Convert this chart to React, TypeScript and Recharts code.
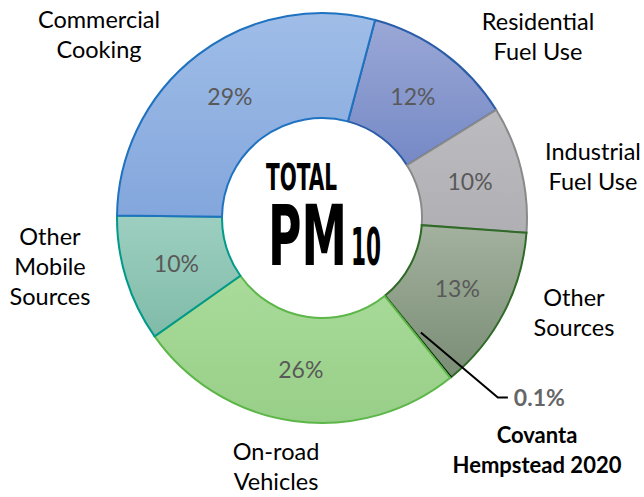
import React from "react";
import { PieChart, Pie, Cell } from "recharts";

const categories = [
  "Residential Fuel Use",
  "Industrial Fuel Use",
  "Other Sources",
  "Covanta Hempstead 2020",
  "On-road Vehicles",
  "Other Mobile Sources",
  "Commercial Cooking",
];
const values = [12, 10, 13, 0.1, 26, 10, 29];
const valueLabels = ["12%", "10%", "13%", "0.1%", "26%", "10%", "29%"];
const labelLines = [
  ["Residential", "Fuel Use"],
  ["Industrial", "Fuel Use"],
  ["Other", "Sources"],
  ["Covanta", "Hempstead 2020"],
  ["On-road", "Vehicles"],
  ["Other", "Mobile", "Sources"],
  ["Commercial", "Cooking"],
];

const fills = ["url(#gRes)", "url(#gInd)", "url(#gOth)", "#000", "url(#gOnr)", "url(#gMob)", "url(#gCom)"];
const strokes = ["#2a5ca8", "#8a8a8a", "#2f6a27", "#000", "#5cb648", "#00998a", "#1f72c0"];

// outside-label anchor (center x, first baseline y) relative to pie centre
const outsideOffsets = [
  [216, -188],
  [271, -58],
  [252, 88],
  [215, 225],
  [-46, 242],
  [-272, 27],
  [-223, -190],
];

const data = categories.map((name, i) => ({ name, value: values[i] }));

const CX = 322;
const CY = 218;
const RAD = Math.PI / 180;
const FONT = "Lato, 'Open Sans', sans-serif";
const NARROW = "'Liberation Sans Narrow', 'DejaVu Sans Condensed', sans-serif";

const renderLabel = (props: any) => {
  const { cx, cy, midAngle, innerRadius, outerRadius, index } = props;
  const r = (innerRadius + outerRadius) / 2;
  const mx = cx + r * Math.cos(-midAngle * RAD);
  const my = cy + r * Math.sin(-midAngle * RAD);
  const [ox, oy] = outsideOffsets[index];
  const lines = labelLines[index];
  const isCov = index === 3;
  return (
    <g key={`lbl-${index}`}>
      {!isCov && (
        <text x={mx} y={my} textAnchor="middle" dominantBaseline="central" fill="#595959" fontSize={23} fontFamily={FONT}>
          {valueLabels[index]}
        </text>
      )}
      {isCov && (
        <g>
          <polyline
            points={`${mx + 3},${my - 4} ${mx + 80},${my + 61} ${mx + 90},${my + 61}`}
            fill="none"
            stroke="#000"
            strokeWidth={2}
          />
          <text x={mx + 96} y={my + 69} textAnchor="start" fill="#666" fontSize={23} fontWeight={700} fontFamily={FONT}>
            {valueLabels[index]}
          </text>
        </g>
      )}
      {lines.map((t, j) => (
        <text
          key={j}
          x={cx + ox}
          y={cy + oy + j * 30}
          textAnchor="middle"
          fill="#000"
          fontSize={isCov ? 22 : 23.5}
          fontWeight={isCov ? 700 : 400}
          fontFamily={FONT}
        >
          {t}
        </text>
      ))}
    </g>
  );
};

export default function App() {
  return (
    <div style={{ position: "absolute", left: 0, top: 0, width: 644, height: 497, background: "#fff" }}>
      <PieChart width={644} height={497} margin={{ top: 0, right: 0, bottom: 0, left: 0 }}>
        <defs>
          <linearGradient id="gCom" x1="0" y1="0" x2="0" y2="1">
            <stop offset="0%" stopColor="#9fbde7" />
            <stop offset="100%" stopColor="#83a6dc" />
          </linearGradient>
          <linearGradient id="gRes" x1="0" y1="0" x2="0" y2="1">
            <stop offset="0%" stopColor="#9aa8d6" />
            <stop offset="100%" stopColor="#7689c6" />
          </linearGradient>
          <linearGradient id="gInd" x1="0" y1="0" x2="0" y2="1">
            <stop offset="0%" stopColor="#bcbcc0" />
            <stop offset="100%" stopColor="#b0b0b4" />
          </linearGradient>
          <linearGradient id="gOth" x1="0" y1="0" x2="0" y2="1">
            <stop offset="0%" stopColor="#a3b19e" />
            <stop offset="100%" stopColor="#7a8d75" />
          </linearGradient>
          <linearGradient id="gOnr" x1="0" y1="0" x2="0" y2="1">
            <stop offset="0%" stopColor="#a9db9a" />
            <stop offset="100%" stopColor="#98cf88" />
          </linearGradient>
          <linearGradient id="gMob" x1="0" y1="0" x2="0" y2="1">
            <stop offset="0%" stopColor="#9dcfc0" />
            <stop offset="100%" stopColor="#80bba8" />
          </linearGradient>
        </defs>
        <Pie
          data={data}
          dataKey="value"
          nameKey="name"
          cx={CX}
          cy={CY}
          innerRadius={100}
          outerRadius={205}
          startAngle={75}
          endAngle={-285}
          isAnimationActive={false}
          label={renderLabel}
          labelLine={false}
        >
          {data.map((d, i) => (
            <Cell key={d.name} fill={fills[i]} stroke={strokes[i]} strokeWidth={i === 3 ? 1 : 2} />
          ))}
        </Pie>
        <text fontFamily={NARROW} fontWeight={700} fill="#000" lengthAdjust="spacingAndGlyphs">
          <tspan x={266} y={190} fontSize={37} textLength={71} lengthAdjust="spacingAndGlyphs">
            TOTAL
          </tspan>
          <tspan x={268} y={265} fontSize={84} textLength={79} lengthAdjust="spacingAndGlyphs">
            PM
          </tspan>
          <tspan x={351} y={265} fontSize={51} textLength={30} lengthAdjust="spacingAndGlyphs">
            10
          </tspan>
        </text>
      </PieChart>
    </div>
  );
}
